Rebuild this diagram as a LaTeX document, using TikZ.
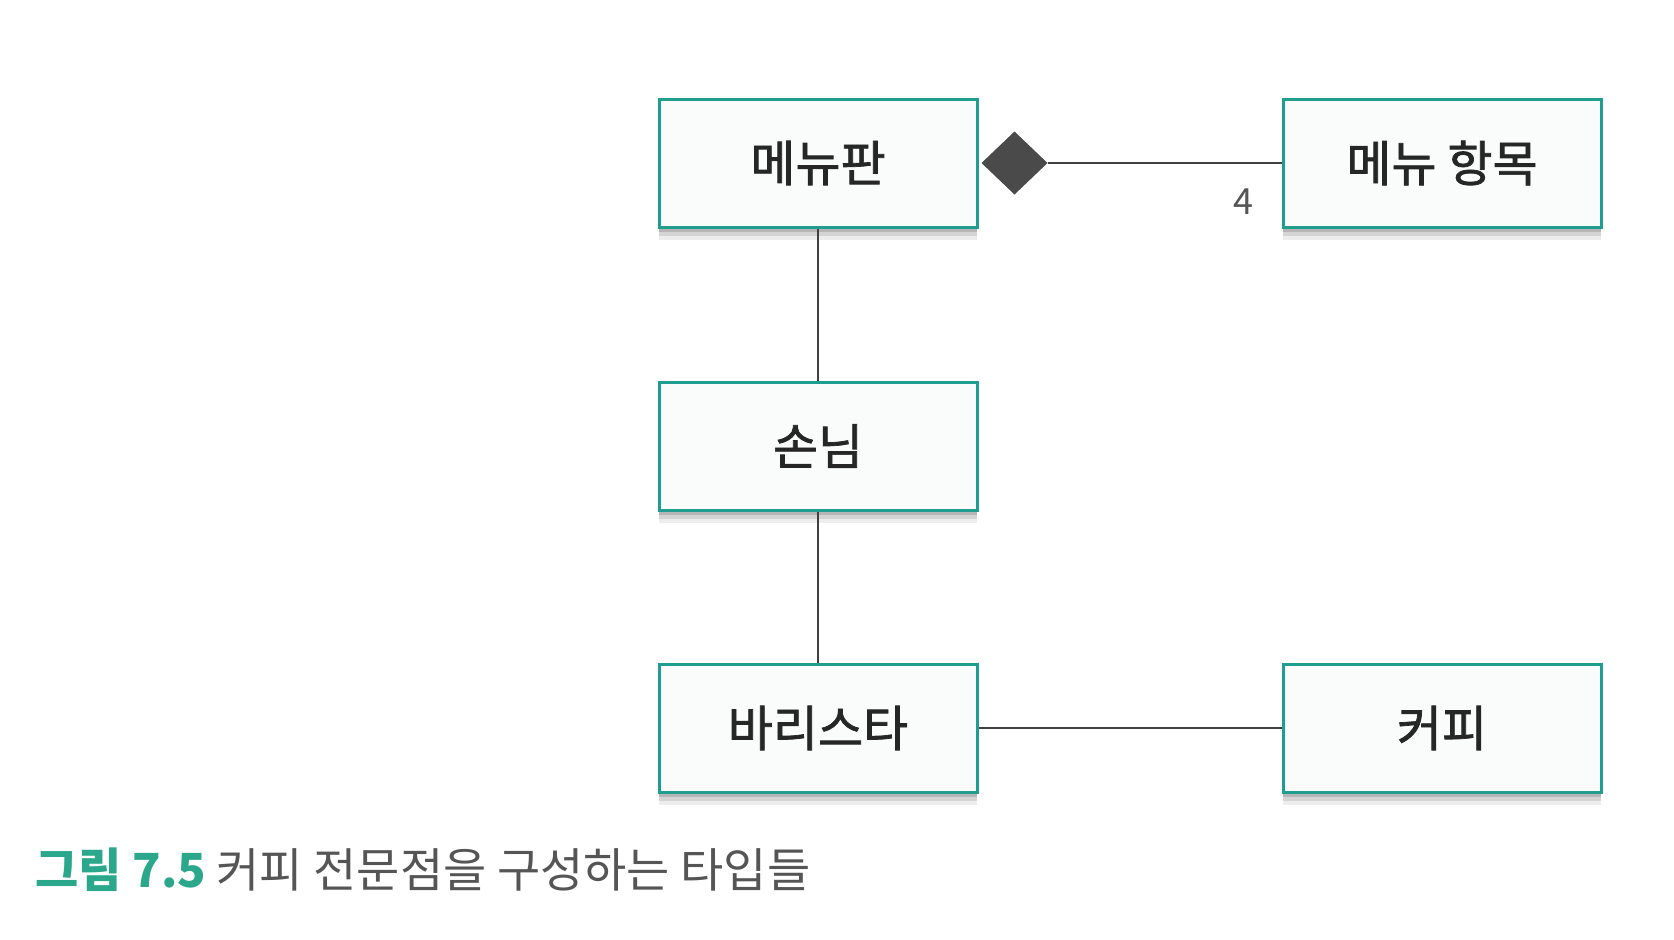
\documentclass[tikz,border=0pt]{standalone}
\usepackage{fontspec}
\setmainfont{Noto Sans CJK KR}
\newfontfamily\kr{Noto Sans CJK KR}
\newfontfamily\krm{Noto Sans CJK KR}[FakeBold=1.5]
\usetikzlibrary{shapes.geometric}
\definecolor{boxteal}{HTML}{1F9E8F}
\definecolor{boxfill}{HTML}{FAFCFC}
\definecolor{linegray}{HTML}{404040}
\definecolor{capgreen}{HTML}{2BA88C}
\definecolor{capgray}{HTML}{555555}
\tikzset{
  softshadow/.style={preaction={fill=black, opacity=0.10, draw=none, transform canvas={yshift=-4pt}}},
  classbox/.style={draw=boxteal, line width=3pt, fill=boxfill,
    minimum width=318pt, minimum height=128pt, inner sep=0pt,
    font=\krm\fontsize{49}{56}\selectfont, text=black!85,
    preaction={fill=black, opacity=0.07, draw=none, transform canvas={yshift=-13pt, xshift=0pt}},
    preaction={fill=black, opacity=0.10, draw=none, transform canvas={yshift=-9pt}},
    preaction={fill=black, opacity=0.14, draw=none, transform canvas={yshift=-5pt}}},
  assoc/.style={draw=linegray, line width=2pt},
  compdia/.style={diamond, fill=linegray!95, draw=none, inner sep=0pt, outer sep=0pt,
    minimum width=66pt, minimum height=63pt}
}
\begin{document}
\begin{tikzpicture}[x=1pt,y=-1pt]
\useasboundingbox (0,0) rectangle (1674,940);
\fill[white] (0,0) rectangle (1674,940);
\node[classbox] (menu) at (818,163) {메뉴판};
\node[classbox] (item) at (1442,163) {메뉴 항목};
\node[classbox] (guest) at (818,446) {손님};
\node[classbox] (barista) at (818,728) {바리스타};
\node[classbox] (coffee) at (1442,728) {커피};
\node[compdia, anchor=west] (dia) at ([xshift=3pt]menu.east) {};
\draw[assoc] (dia.east) -- (item.west);
\node[font=\kr\fontsize{36}{40}\selectfont, text=capgray] (mult) at (1243,202) {4};
\draw[assoc] (menu.south) -- (guest.north);
\draw[assoc] (guest.south) -- (barista.north);
\draw[assoc] (barista.east) -- (coffee.west);
\node[anchor=base west, inner sep=0pt, font=\kr\fontsize{47}{52}\selectfont] (cap) at (35,887)
  {\textcolor{capgreen}{\bfseries 그림 7.5} \textcolor{capgray}{커피 전문점을 구성하는 타입들}};
\end{tikzpicture}
\end{document}
